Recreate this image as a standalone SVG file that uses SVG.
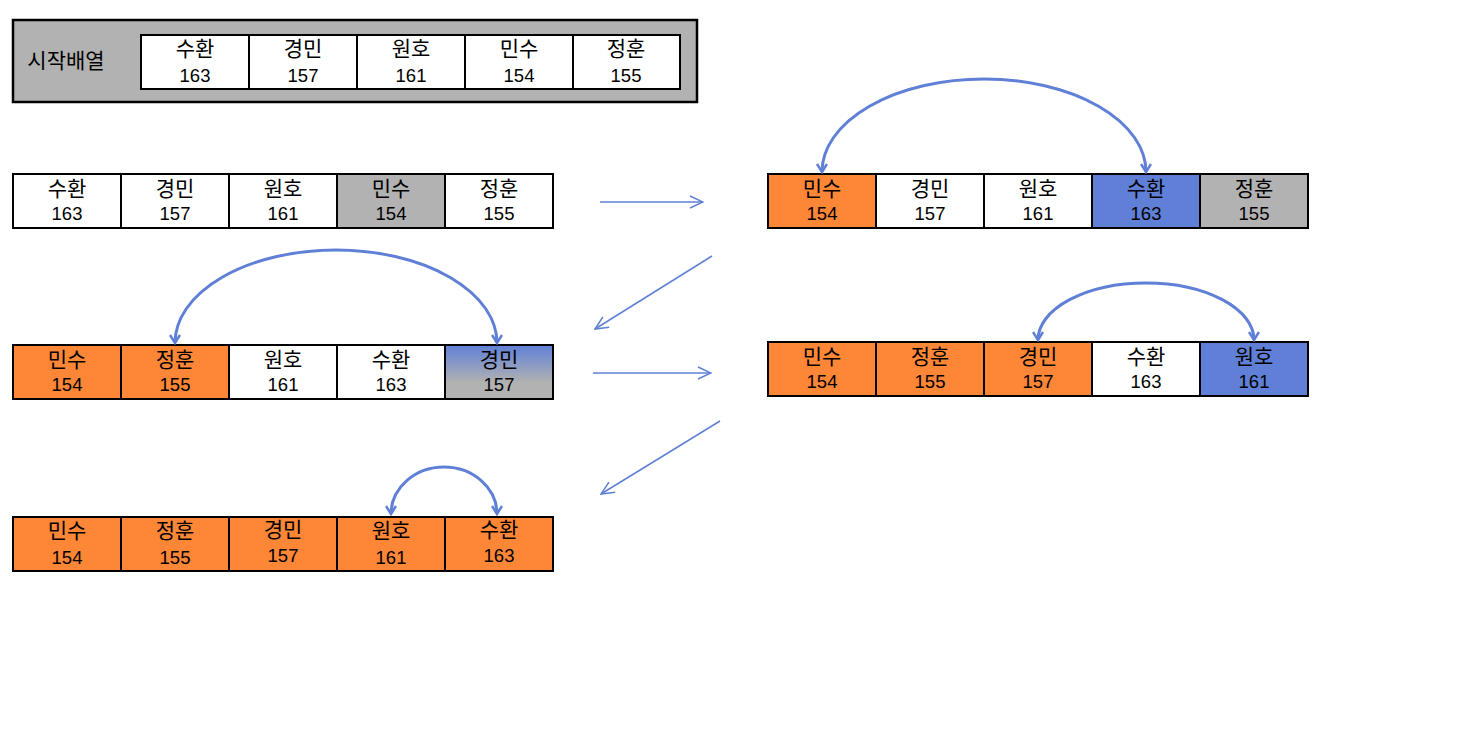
<svg xmlns="http://www.w3.org/2000/svg" width="1467" height="733" viewBox="0 0 1467 733">
<style>
.c{stroke:#000;stroke-width:2}
.w{fill:#fff}.o{fill:#FE8637}.b{fill:#5F80D6}.g{fill:#B2B2B2}
text{font-family:"Noto Sans CJK KR","Malgun Gothic",sans-serif;text-anchor:middle;fill:#000}
.k{font-size:21px}.l{font-size:21px}
.n{font-size:18.5px;font-family:"Liberation Sans",Arial,sans-serif}
.arc{fill:none;stroke:#5F80D6;stroke-width:3;marker-start:url(#ah);marker-end:url(#ah)}
.ln{fill:none;stroke:#5F80D6;stroke-width:1.5;marker-end:url(#la)}
</style>
<defs>
<marker id="ah" viewBox="0 0 12 12" refX="10" refY="6" markerWidth="12" markerHeight="12" markerUnits="userSpaceOnUse" orient="auto-start-reverse">
<polyline points="2,1 10,6 2,11" fill="none" stroke="#5F80D6" stroke-width="2.5"/>
</marker>
<marker id="la" viewBox="0 0 16 16" refX="15" refY="8" markerWidth="16" markerHeight="16" markerUnits="userSpaceOnUse" orient="auto">
<polyline points="2,2 15,8 2,14" fill="none" stroke="#5F80D6" stroke-width="1.5"/>
</marker>
<linearGradient id="bg" x1="0" y1="0" x2="0" y2="1">
<stop offset="0" stop-color="#5F80D6"/>
<stop offset="0.7" stop-color="#B2B2B2"/>
<stop offset="1" stop-color="#B2B2B2"/>
</linearGradient>
</defs>
<rect width="1467" height="733" fill="#fff"/>

<g id="start">
<rect x="13" y="20" width="684" height="82" class="g" stroke="#000" stroke-width="2.5"/>
<text x="66" y="68" class="l">시작배열</text>
<rect x="141" y="35" width="108" height="54" class="c w"/><text x="195" y="55.5" class="k">수환</text><text x="195" y="81.5" class="n">163</text>
<rect x="249" y="35" width="108" height="54" class="c w"/><text x="303" y="55.5" class="k">경민</text><text x="303" y="81.5" class="n">157</text>
<rect x="357" y="35" width="108" height="54" class="c w"/><text x="411" y="55.5" class="k">원호</text><text x="411" y="81.5" class="n">161</text>
<rect x="465" y="35" width="108" height="54" class="c w"/><text x="519" y="55.5" class="k">민수</text><text x="519" y="81.5" class="n">154</text>
<rect x="573" y="35" width="107" height="54" class="c w"/><text x="626" y="55.5" class="k">정훈</text><text x="626" y="81.5" class="n">155</text>
</g>

<g id="step1">
<rect x="13" y="174" width="108" height="54" class="c w"/><text x="67" y="195.5" class="k">수환</text><text x="67" y="219.5" class="n">163</text>
<rect x="121" y="174" width="108" height="54" class="c w"/><text x="175" y="195.5" class="k">경민</text><text x="175" y="219.5" class="n">157</text>
<rect x="229" y="174" width="108" height="54" class="c w"/><text x="283" y="195.5" class="k">원호</text><text x="283" y="219.5" class="n">161</text>
<rect x="337" y="174" width="108" height="54" class="c g"/><text x="391" y="195.5" class="k">민수</text><text x="391" y="219.5" class="n">154</text>
<rect x="445" y="174" width="108" height="54" class="c w"/><text x="499" y="195.5" class="k">정훈</text><text x="499" y="219.5" class="n">155</text>
</g>

<g id="step2">
<rect x="768" y="174" width="108" height="54" class="c o"/><text x="822" y="195.5" class="k">민수</text><text x="822" y="219.5" class="n">154</text>
<rect x="876" y="174" width="108" height="54" class="c w"/><text x="930" y="195.5" class="k">경민</text><text x="930" y="219.5" class="n">157</text>
<rect x="984" y="174" width="108" height="54" class="c w"/><text x="1038" y="195.5" class="k">원호</text><text x="1038" y="219.5" class="n">161</text>
<rect x="1092" y="174" width="108" height="54" class="c b"/><text x="1146" y="195.5" class="k">수환</text><text x="1146" y="219.5" class="n">163</text>
<rect x="1200" y="174" width="108" height="54" class="c g"/><text x="1254" y="195.5" class="k">정훈</text><text x="1254" y="219.5" class="n">155</text>
</g>

<g id="step3">
<rect x="13" y="345" width="108" height="54" class="c o"/><text x="67" y="366.5" class="k">민수</text><text x="67" y="390.5" class="n">154</text>
<rect x="121" y="345" width="108" height="54" class="c o"/><text x="175" y="366.5" class="k">정훈</text><text x="175" y="390.5" class="n">155</text>
<rect x="229" y="345" width="108" height="54" class="c w"/><text x="283" y="366.5" class="k">원호</text><text x="283" y="390.5" class="n">161</text>
<rect x="337" y="345" width="108" height="54" class="c w"/><text x="391" y="366.5" class="k">수환</text><text x="391" y="390.5" class="n">163</text>
<rect x="445" y="345" width="108" height="54" class="c" fill="url(#bg)"/><text x="499" y="366.5" class="k">경민</text><text x="499" y="390.5" class="n">157</text>
</g>

<g id="step4">
<rect x="768" y="342" width="108" height="54" class="c o"/><text x="822" y="363.5" class="k">민수</text><text x="822" y="387.5" class="n">154</text>
<rect x="876" y="342" width="108" height="54" class="c o"/><text x="930" y="363.5" class="k">정훈</text><text x="930" y="387.5" class="n">155</text>
<rect x="984" y="342" width="108" height="54" class="c o"/><text x="1038" y="363.5" class="k">경민</text><text x="1038" y="387.5" class="n">157</text>
<rect x="1092" y="342" width="108" height="54" class="c w"/><text x="1146" y="363.5" class="k">수환</text><text x="1146" y="387.5" class="n">163</text>
<rect x="1200" y="342" width="108" height="54" class="c b"/><text x="1254" y="363.5" class="k">원호</text><text x="1254" y="387.5" class="n">161</text>
</g>

<g id="step5">
<rect x="13" y="517" width="108" height="54" class="c o"/><text x="67" y="538" class="k">민수</text><text x="67" y="564" class="n">154</text>
<rect x="121" y="517" width="108" height="54" class="c o"/><text x="175" y="538" class="k">정훈</text><text x="175" y="564" class="n">155</text>
<rect x="229" y="517" width="108" height="54" class="c o"/><text x="283" y="537" class="k">경민</text><text x="283" y="562" class="n">157</text>
<rect x="337" y="517" width="108" height="54" class="c o"/><text x="391" y="538" class="k">원호</text><text x="391" y="564" class="n">161</text>
<rect x="445" y="517" width="108" height="54" class="c o"/><text x="499" y="537" class="k">수환</text><text x="499" y="562" class="n">163</text>
</g>

<g id="connectors">
<path class="arc" d="M822,172 A162,93 0 0 1 1146,172"/>
<path class="arc" d="M175,343 A161,93 0 0 1 497,343"/>
<path class="arc" d="M1038,340 A108,57 0 0 1 1254,340"/>
<path class="arc" d="M391,514 A53,47 0 0 1 497,514"/>
<line class="ln" x1="600" y1="202" x2="703" y2="202"/>
<line class="ln" x1="712" y1="256" x2="595" y2="329"/>
<line class="ln" x1="593" y1="373" x2="711" y2="373"/>
<line class="ln" x1="720" y1="421" x2="601" y2="494"/>
</g>
</svg>
